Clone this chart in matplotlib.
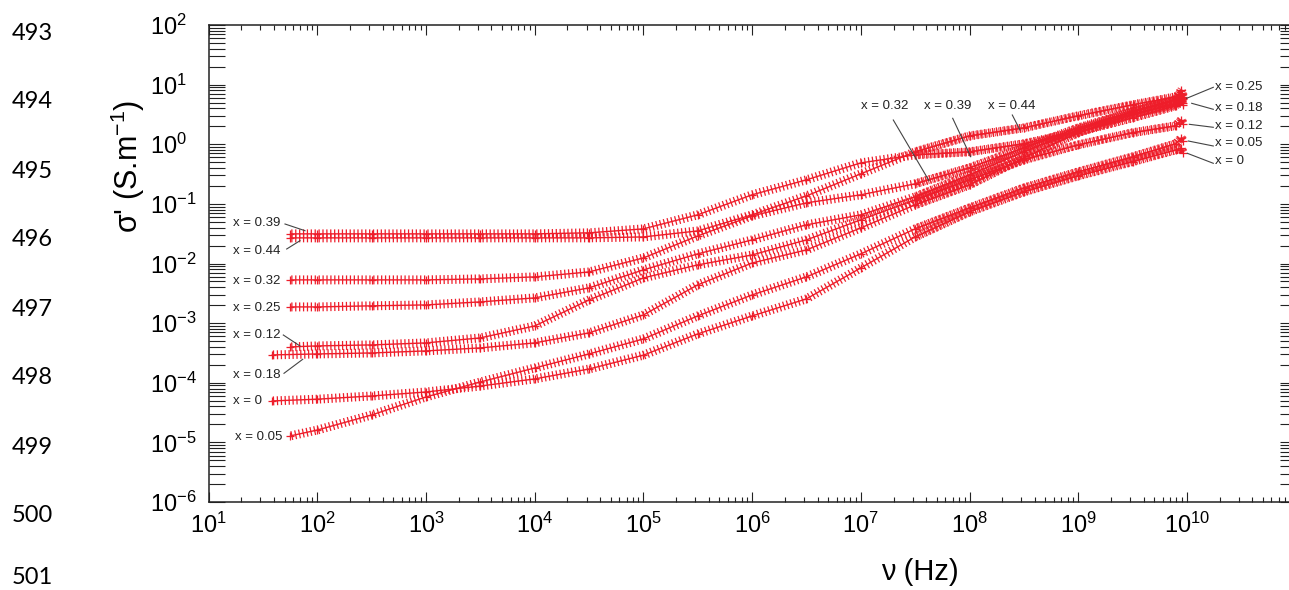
import numpy as np
import matplotlib
matplotlib.use('Agg')
import matplotlib.pyplot as plt
from matplotlib import patheffects as pe
from matplotlib.lines import Line2D
from matplotlib.ticker import LogLocator, NullFormatter, FixedLocator, FixedFormatter

plt.rcParams['font.family'] = ['Liberation Sans', 'DejaVu Sans']
plt.rcParams['mathtext.fontset'] = 'custom'
plt.rcParams['mathtext.rm'] = 'Liberation Sans'
plt.rcParams['mathtext.it'] = 'Liberation Sans:italic'
plt.rcParams['mathtext.bf'] = 'Liberation Sans:bold'
plt.rcParams['axes.unicode_minus'] = False

# ---------------- data ----------------
freq_a = [56, 100, 316, 1e3, 3.16e3, 1e4, 3.16e4, 1e5, 3.16e5, 1e6, 3.16e6, 1e7,
          3.16e7, 1e8, 3.16e8, 1e9, 3.16e9, 7.9e9, 8.9e9, 9.3e9]
freq_b = [38, 100, 316, 1e3, 3.16e3, 1e4, 3.16e4, 1e5, 3.16e5, 1e6, 3.16e6, 1e7,
          3.16e7, 1e8, 3.16e8, 1e9, 3.16e9, 7.9e9, 8.9e9, 9.3e9]

sig_039 = [0.0314, 0.0314, 0.0314, 0.0314, 0.0314, 0.0314, 0.0327, 0.0381, 0.0655, 0.142,
           0.253, 0.487, 0.664, 0.746, 1.02, 1.61, 2.77, 4.41, 5.35, 4.58]
sig_044 = [0.0269, 0.0269, 0.0269, 0.0269, 0.0269, 0.0269, 0.0269, 0.0279, 0.0352, 0.0655,
           0.136, 0.319, 0.746, 1.38, 1.88, 3.00, 4.58, 6.24, 7.01, 6.01]
sig_032 = [5.31e-3, 5.31e-3, 5.31e-3, 5.31e-3, 5.52e-3, 5.96e-3, 7.22e-3, 1.24e-2, 2.90e-2, 6.30e-2,
           0.104, 0.142, 0.217, 0.402, 0.871, 1.88, 3.50, 5.56, 6.2, 5.8]
sig_025 = [1.87e-3, 1.87e-3, 1.95e-3, 2.02e-3, 2.27e-3, 2.65e-3, 3.90e-3, 7.82e-3, 1.45e-2, 2.49e-2,
           4.45e-2, 6.55e-2, 0.131, 0.307, 0.746, 1.75, 3.50, 5.56, 8.18, 6.24]
sig_012 = [3.99e-4, 4.15e-4, 4.31e-4, 4.66e-4, 5.65e-4, 8.97e-4, 2.45e-3, 5.73e-3, 9.48e-3, 1.39e-2,
           2.49e-2, 5.40e-2, 0.117, 0.253, 0.547, 0.977, 1.56, 2.04, 2.57, 2.20]
sig_018 = [2.93e-4, 3.04e-4, 3.16e-4, 3.42e-4, 3.84e-4, 4.66e-4, 6.86e-4, 1.37e-3, 4.38e-3, 1.02e-2,
           1.69e-2, 3.95e-2, 9.62e-2, 0.208, 0.592, 1.56, 3.24, 4.58, 5.78, 4.95]
sig_005 = [1.28e-5, 1.61e-5, 2.88e-5, 5.78e-5, 1.03e-4, 1.77e-4, 3.04e-4, 5.43e-4, 1.32e-3, 2.97e-3,
           5.96e-3, 1.45e-2, 3.81e-2, 8.57e-2, 0.185, 0.344, 0.615, 1.02, 1.28, 1.14]
sig_000 = [4.95e-5, 5.3e-5, 6.0e-5, 7.0e-5, 8.8e-5, 1.16e-4, 1.7e-4, 2.9e-4, 6.59e-4, 1.32e-3,
           2.55e-3, 8.43e-3, 2.79e-2, 7.35e-2, 0.159, 0.295, 0.51, 0.805, 0.85, 0.72]

series = [(freq_a, sig_039), (freq_a, sig_044), (freq_a, sig_032), (freq_a, sig_025),
          (freq_a, sig_012), (freq_b, sig_018), (freq_a, sig_005), (freq_b, sig_000)]

x_major = [1e1, 1e2, 1e3, 1e4, 1e5, 1e6, 1e7, 1e8, 1e9, 1e10, 1e11]
x_labels = ['$\\mathregular{10^{%d}}$' % k for k in range(1, 11)] + ['']
y_major = [1e-6, 1e-5, 1e-4, 1e-3, 1e-2, 1e-1, 1e0, 1e1, 1e2]
y_labels = ['$\\mathregular{10^{%d}}$' % k for k in range(-6, 3)]

left_labels = [('x = 0.39', 233, 222.7), ('x = 0.44', 233, 250.7), ('x = 0.32', 233, 280.7),
               ('x = 0.25', 233, 308.3), ('x = 0.12', 233, 335), ('x = 0.18', 233, 375),
               ('x = 0', 233, 401), ('x = 0.05', 235, 436.7)]
top_labels = [('x = 0.32', 885, 105.7), ('x = 0.39', 948, 105.7), ('x = 0.44', 1012, 105.7)]
right_labels = [('x = 0.25', 1215, 86.7), ('x = 0.18', 1215, 107.7), ('x = 0.12', 1215, 126),
                ('x = 0.05', 1215, 143.3), ('x = 0', 1215, 161)]
leaders = [((285, 224), (305, 230.7)), ((286.7, 249), (300, 240.7)),
           ((283.3, 335), (300, 346)), ((284, 373.3), (302.7, 359.3)),
           ((893.3, 120), (929, 180.7)), ((952.7, 118.3), (970.7, 156.7)),
           ((1012.3, 115), (1020, 130)),
           ((1213.3, 87.3), (1186.7, 98.3)), ((1213.3, 109.3), (1191.7, 103.3)),
           ((1213.3, 127.3), (1189.3, 124.3)), ((1213.3, 146), (1188.3, 141)),
           ((1213.3, 163.3), (1187.3, 153.3))]
line_numbers = ['493', '494', '495', '496', '497', '498', '499', '500', '501']

# ---------------- figure ----------------
W, H = 1289, 590
fig = plt.figure(figsize=(W / 100, H / 100), dpi=100)


def fx(px):
    return px / W


def fy(py):
    return 1 - py / H


ax = fig.add_axes([fx(208.6), fy(502), (1295.6 - 208.6) / W, (502 - 25) / H])
ax.set_xscale('log')
ax.set_yscale('log')

red = '#ee1d2a'


def ticked(spacing, length, lw):
    return [pe.TickedStroke(spacing=spacing, angle=90, length=length, linewidth=lw),
            pe.TickedStroke(spacing=spacing, angle=-90, length=length, linewidth=lw),
            pe.Normal()]


for f, s in series:
    ax.plot(f, s, color=red, lw=1.0, solid_capstyle='butt', zorder=3,
            path_effects=ticked(2.8, 1.15, 0.9))
    # measured points get much denser at high frequency: denser marker pattern there
    hi = [i for i, v in enumerate(f) if v >= 3.16e7]
    ax.plot([f[i] for i in hi], [s[i] for i in hi], color=red, lw=1.0, alpha=0.8,
            solid_capstyle='butt', zorder=3, path_effects=ticked(1.5, 2.0, 0.8))
    ax.plot(f, s, linestyle='none', marker='+', ms=6, mew=0.9, color=red, zorder=3)

ax.set_xlim(1e1, 1e11)
ax.set_ylim(1e-6, 1e2)

ax.xaxis.set_major_locator(FixedLocator(x_major))
ax.xaxis.set_major_formatter(FixedFormatter(x_labels))
ax.xaxis.set_minor_locator(LogLocator(base=10, subs=np.arange(2, 10), numticks=100))
ax.xaxis.set_minor_formatter(NullFormatter())
ax.yaxis.set_major_locator(FixedLocator(y_major))
ax.yaxis.set_major_formatter(FixedFormatter(y_labels))
ax.yaxis.set_minor_locator(LogLocator(base=10, subs=np.arange(2, 10), numticks=100))
ax.yaxis.set_minor_formatter(NullFormatter())

for sp in ax.spines.values():
    sp.set_linewidth(1.1)
    sp.set_color('#222222')

ax.tick_params(axis='x', which='major', direction='in', length=7.5, width=0.8,
               top=True, bottom=True, labelsize=17, pad=8, colors='#222222', labelcolor='black')
ax.tick_params(axis='x', which='minor', direction='in', length=3.8, width=0.8,
               top=True, bottom=True, colors='#222222')
ax.tick_params(axis='y', which='both', direction='in', length=11.5, width=0.8,
               left=True, right=True, colors='#222222')
ax.tick_params(axis='y', which='major', labelsize=17, pad=42, labelcolor='black')
for lbl in ax.get_yticklabels():
    lbl.set_horizontalalignment('left')

# axis titles
fig.text(fx(128), fy(166), "σ' (S.m$^{-1}$)", rotation=90, fontsize=22,
         ha='center', va='center')
fig.text(fx(920), fy(572), 'ν (Hz)', fontsize=21, ha='center', va='center')

# series labels
for txt, px, py in left_labels + right_labels:
    fig.text(fx(px), fy(py), txt, fontsize=9.5, ha='left', va='center', color='#222222')
for txt, px, py in top_labels:
    fig.text(fx(px), fy(py), txt, fontsize=9.5, ha='center', va='center', color='#222222')
for (x1, y1), (x2, y2) in leaders:
    fig.add_artist(Line2D([fx(x1), fx(x2)], [fy(y1), fy(y2)], transform=fig.transFigure,
                          color='#444444', lw=0.8))

# manuscript line numbers
line_y = [33, 102, 171, 240, 309, 378, 447, 516, 577]
for num, py in zip(line_numbers, line_y):
    fig.text(fx(12), fy(py), num, fontsize=17, family=['Lato', 'DejaVu Sans'],
             ha='left', va='center', color='black')

fig.savefig('out.png', dpi=100)
